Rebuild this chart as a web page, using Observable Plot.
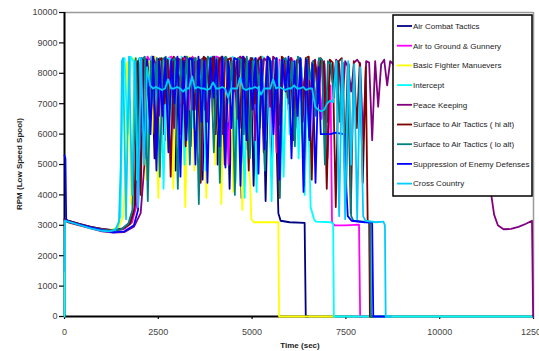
<!DOCTYPE html>
<html><head><meta charset="utf-8">
<script src="https://cdn.jsdelivr.net/npm/d3@7"></script>
<script src="https://cdn.jsdelivr.net/npm/@observablehq/plot@0.6"></script>
<style>
html,body{margin:0;padding:0;background:#fff;}
#chart{position:relative;width:539px;height:351px;overflow:hidden;}
</style></head><body><div id="chart"></div>
<script>
const seriesNames = ["Air Combat Tactics","Air to Ground & Gunnery","Basic Fighter Manuevers","Intercept","Peace Keeping","Surface to Air Tactics ( hi alt)","Surface to Air Tactics ( lo alt)","Suppression of Enemy Defenses","Cross Country"];
const seriesColors = ["#000080","#FF00FF","#FFFF00","#00FFFF","#800080","#800000","#008080","#0000FF","#00CCFF"];
const xTicks = [0, 2500, 5000, 7500, 10000, 12500];
const yTicks = [0,1000,2000,3000,4000,5000,6000,7000,8000,9000,10000];
const sampleStep = 80; // seconds between samples in the busy mission segment

// Air Combat Tactics
const acPre = [[0,3200],[100,3150],[400,3050],[700,2950],[1000,2880],[1300,2840],[1550,2900],[1750,3100],[1880,3600],[1940,5500],[1980,8400]];
const acStart = 2000;
const acBusy = [8500,6200,8400,7000,8550,5200,8450,8500,6000,8400,
 7600,8500,4800,8450,6500,8550,8400,5600,8500,7200,
 8450,4500,8500,6800,8400,8550,5000,8450,6000,8500,
 4200,8400,7000,8500,3900,8450,5500,8500,4300,8400,
 6200,8450,3800,8300,4600,8200];
const acPost = [[5700,3400],[5760,3150],[6000,3100],[6400,3080],[6430,0],[6500,0]];

// Air to Ground & Gunnery
const agPre = [[0,3150],[100,3120],[400,3030],[700,2940],[1000,2870],[1300,2820],[1600,2880],[1800,3100],[1930,3700],[2000,6000],[2030,8400]];
const agStart = 2050;
const agBusy = [8500,7000,8550,8400,6500,8500,7800,8450,5800,8500,
 8550,7200,8400,6000,8500,8450,6800,8550,5500,8400,
 4800,8500,7500,8450,6200,8550,8500,7000,8400,5000,
 8500,6600,8450,8550,7300,8500,5800,8400,6400,8500,
 8450,7100,8550,6000,8500,5400,8450,7600,8400,6800,
 8500,8300,6200,8400,7400,8350,5600,8300,7000,8400,
 6500,8300,5200,7600];
const agPost = [[7130,3100],[7200,3000],[7500,3000],[7850,3020],[7880,0],[7950,0]];

// Basic Fighter Manuevers
const bfPre = [[0,3150],[100,3100],[400,3000],[700,2920],[1000,2860],[1250,2850],[1450,2950],[1570,3300],[1630,5000],[1660,8300]];
const bfStart = 1700;
const bfBusy = [8400,3700,8500,5200,8450,8500,4500,8400,6000,8550,
 3900,8500,8450,5500,8400,4200,8500,7000,8450,3600,
 8550,8400,4800,8500,6200,8450,3900,8500,8400,5000,
 8450,3700,8550,6400,8400,4100,8500,8450,3500,8300,
 5200];
const bfPost = [[4950,4300],[4980,3200],[5050,3100],[5400,3100],[5700,3100],[5720,0],[7200,0]];

// Intercept
const inPre = [[0,0],[10,3150],[100,3120],[400,3020],[700,2920],[1000,2850],[1250,2830],[1400,2900],[1490,3300],[1530,6000],[1560,8400]];
const inStart = 1600;
const inBusy = [8500,6000,8550,8400,4500,8500,7200,8450,5500,8550,
 8400,6800,8500,4200,8450,8500,6500,8400,7600,8550,
 5000,8450,8500,6200,8400,7400,8500,4800,8450,8550,
 6900,8400,5600,8500,8450,7000,8550,4400,8400,8500,
 3900,8450,6300,8500,4100,8400,8550,5800,8450,3800,
 8500,7200,8400,4600,8450,6000,8300,8400,5200,8200,
 4000,7800,3600];
const inPost = [[6650,3200],[6700,3120],[7100,3100],[7160,3050],[7180,0],[12500,0]];

// Peace Keeping
const pkPre = [[0,3150],[100,3100],[400,3000],[700,2900],[1000,2800],[1300,2760],[1600,2780],[1850,2950],[2030,3400],[2130,5000],[2170,8300]];
const pkStart = 2200;
const pkBusy = [8400,7200,8500,8300,6600,8450,8500,7500,8400,6200,
 8500,8450,7000,8550,8400,6800,8500,7600,8450,8500,
 6400,8400,8550,7300,8500,6000,8450,8400,7800,8500,
 6500,8550,8450,7100,8400,8500,5800,8450,7400,8500,
 8400,6900,8550,8450,6300,8500,7700,8400,8500,6600,
 8450,8300,7200,8400,5900,8350,8450,7000,8300,8400,
 6400,8350,7600,8450,8300,6800,8400,8200,7400,8350,
 8450,8300,5800,8400,8350,5800,8400,6900,8300,8450,
 7600,8400];
const pkPost = [[8760,8300],[9100,7600],[9450,8400],[9800,7200],[10200,8300],[10600,7700],[11000,8400],[11300,8100],[11380,3950],[11450,3350],[11550,3000],[11700,2870],[11900,2880],[12100,2950],[12300,3050],[12460,3150],[12490,0]];

// Surface to Air Tactics (hi alt)
const shPre = [[0,3200],[100,3150],[400,3040],[700,2950],[1000,2870],[1300,2830],[1550,2880],[1750,3050],[1860,3500],[1910,6000],[1930,8300]];
const shStart = 1950;
const shBusy = [8400,4000,8500,8450,6500,8550,5200,8400,8500,7000,
 8450,4600,8550,8400,7600,8500,5600,8450,8500,6800,
 8400,4400,8550,8450,7200,8500,6000,8400,8550,5000,
 8450,8500,7400,8400,6200,8550,8450,4800,8500,7000,
 8400,8550,5400,8450,8500,6600,8400,3900,8550,8450,
 7200,8500,5800,8400,8450,6400,8500,8550,4500,8400,
 7800,8500,8300,4200,8450,8350,3600,8400,8500,4800,
 8300,3400,8400,6200,8350,4400,8200];
const shPost = [[8080,3150],[8120,3100],[8140,0],[8200,0]];

// Surface to Air Tactics (lo alt)
const slPre = [[0,3150],[100,3120],[400,3020],[700,2930],[1000,2860],[1300,2820],[1520,2870],[1700,3050],[1810,3500],[1860,6000],[1880,8300]];
const slStart = 1900;
const slBusy = [8500,5600,8450,8550,3800,8400,7000,8500,4600,8450,
 8550,6200,8400,8500,4200,8450,7400,8550,5000,8400,
 8500,3700,8450,6800,8550,8400,5400,8500,4400,8450,
 8550,7200,8400,4000,8500,8450,6000,8550,5200,8400,
 8500,7600,8450,4800,8550,8400,6400,8500,3900,8450,
 8500,7000,8400,5600,8550,8450,4300,8500,7800,8400,
 6600,8500,8450,5000,8400,8300,7200,8400,6400,8350,
 3800,8300];
const slPost = [[7640,3300],[7700,3150],[8100,3100],[8150,3050],[8170,0],[8250,0]];

// Suppression of Enemy Defenses
const sdPre = [[0,5300],[25,5200],[45,3200],[100,3120],[400,3020],[700,2930],[1000,2840],[1300,2770],[1600,2800],[1850,3000],[1960,3500],[2010,6000],[2030,8300]];
const sdStart = 2050;
const sdBusy = [8500,5200,8450,6000,8550,4800,8400,6600,8500,5400,
 8450,7000,8550,4600,8400,5800,8500,8450,5000,8550,
 6400,8400,4400,8500,7200,8450,5600,8550,4900,8400,
 6200,8500,8450,4300,8550,5800,8400,6800,8500,4700,
 8450,5500,8550,8400,6000,8500,4500,8450,7400,8550,
 5200,8400,6600,8500,4100,8450,5800,8300,4400,8200];
const sdPost = [[6830,6000],[7100,6000],[7200,6050],[7450,6000],[7500,4500],[7550,3300],[7650,3150],[8000,3100],[8200,3100],[8230,0],[8540,0]];

// Cross Country
const ccPre = [[0,1500],[12,3150],[100,3120],[400,3010],[700,2900],[1000,2820],[1200,2800],[1350,2850],[1450,3100],[1500,5000],[1530,8400]];
const ccStart = 1560;
const ccBusy = [8500,3200,8550,4000,8400,3600,8500,5000,
 8200,7600,7500,7550,7500,7450,7500,7800,7500,7500,
 7550,7500,7400,7500,7500,7900,7500,7550,7500,7500,
 7450,7500,7700,7500,7500,7550,7500,7200,7500,7500,
 7500,7850,7500,7450,7500,7500,7550,7500,7300,7500,
 7500,7500,7800,7500,7550,7500,7450,7500,7500,7600,
 7500,7500,7550,7450,7500,7500,
 6900,6800,6750,6800,7000,7100,7050,
 8400,3300,8450,3200,8400,5000,8300,3200,8200,3300];
const ccPost = [[8020,3150],[8300,3100],[8500,3120],[8540,3000],[8560,0],[8700,0]];

const seriesParts = [
  [acPre, acStart, acBusy, acPost],
  [agPre, agStart, agBusy, agPost],
  [bfPre, bfStart, bfBusy, bfPost],
  [inPre, inStart, inBusy, inPost],
  [pkPre, pkStart, pkBusy, pkPost],
  [shPre, shStart, shBusy, shPost],
  [slPre, slStart, slBusy, slPost],
  [sdPre, sdStart, sdBusy, sdPost],
  [ccPre, ccStart, ccBusy, ccPost]
];
const data = seriesParts.flatMap(([pre, t0, busy, post], k) => [
  ...pre.map(([t, v]) => ({series: seriesNames[k], t, v})),
  ...busy.map((v, i) => ({series: seriesNames[k], t: t0 + i * sampleStep, v})),
  ...post.map(([t, v]) => ({series: seriesNames[k], t, v}))
]);

const font = "'Liberation Sans', Arial, sans-serif";
const plot = Plot.plot({
  width: 539, height: 351,
  marginLeft: 64, marginRight: 6, marginTop: 12, marginBottom: 35,
  style: {fontFamily: font, background: "white", overflow: "visible"},
  x: {domain: [0, 12500], label: null},
  y: {domain: [0, 10000], label: null},
  color: {domain: seriesNames, range: seriesColors},
  marks: [
    Plot.ruleY([10000], {stroke: "#9a9a9a", strokeWidth: 1.5}),
    Plot.ruleX([12500], {stroke: "#9a9a9a", strokeWidth: 1.5}),
    Plot.axisY({ticks: yTicks, tickSize: 5, tickPadding: 2, fontSize: 9, tickFormat: d3.format("d"), stroke: "black", fill: "#444", strokeWidth: 1.2, label: null}),
    Plot.axisX({ticks: xTicks, tickSize: 3, tickPadding: 9, fontSize: 9, tickFormat: d3.format("d"), stroke: "black", fill: "#444", strokeWidth: 1.2, label: null}),
    Plot.ruleX([0], {stroke: "black", strokeWidth: 2}),
    Plot.ruleY([0], {stroke: "black", strokeWidth: 2}),
    Plot.line(data, {x: "t", y: "v", z: "series", stroke: "series", strokeWidth: 1.8})
  ]
});
document.getElementById("chart").appendChild(plot);

const svg = d3.select(plot);
svg.append("text").attr("transform", "translate(19,164) rotate(-90)")
  .attr("text-anchor", "middle").attr("dy", "0.35em")
  .style("font", `bold 8px ${font}`).attr("fill", "#222").text("RPM (Low Speed Spool)");
svg.append("text").attr("x", 300).attr("y", 345)
  .attr("text-anchor", "middle").attr("dy", "0.35em")
  .style("font", `bold 8px ${font}`).attr("fill", "#222").text("Time (sec)");

const lg = svg.append("g");
lg.append("rect").attr("x", 393).attr("y", 15).attr("width", 139).attr("height", 181)
  .attr("fill", "white").attr("stroke", "black").attr("stroke-width", 1.5);
seriesNames.forEach((name, i) => {
  const y = 26 + i * 19.7;
  lg.append("line").attr("x1", 397).attr("x2", 412).attr("y1", y).attr("y2", y)
    .attr("stroke", seriesColors[i]).attr("stroke-width", 1.8);
  lg.append("text").attr("x", 413).attr("y", y).attr("dy", "0.35em")
    .attr("text-anchor", "start")
    .style("font", `8px ${font}`).attr("fill", "#222").text(name);
});
</script></body></html>
